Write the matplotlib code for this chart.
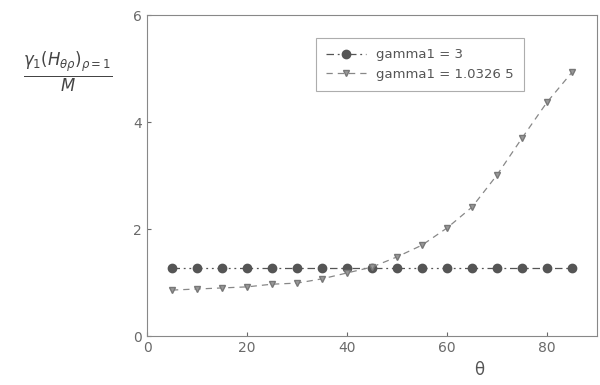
import matplotlib
matplotlib.use("Agg")
import matplotlib.pyplot as plt

theta = [5, 10, 15, 20, 25, 30, 35, 40, 45, 50, 55, 60, 65, 70, 75, 80, 85]
gamma3 = [1.27] * 17
gamma_other = [0.86, 0.88, 0.90, 0.92, 0.97, 0.99, 1.07, 1.18, 1.29, 1.48,
               1.70, 2.02, 2.41, 3.01, 3.70, 4.37, 4.93]
labels = ["gamma1 = 3", "gamma1 = 1.0326 5"]
xticks = [0, 20, 40, 60, 80]
yticks = [0, 2, 4, 6]

gray = "#6a6a6a"
fig = plt.figure(figsize=(6, 3.85), dpi=100)
ax = fig.add_axes([0.245, 0.127, 0.75, 0.834])

ax.plot(theta, gamma3, color="#555555", linestyle=(0, (6, 3, 1.5, 3, 1.5, 3)),
        linewidth=0.9, marker="o", markersize=6, label=labels[0])
ax.plot(theta, gamma_other, color="#888888", linestyle=(0, (5, 4)),
        linewidth=0.9, marker="v", markersize=4.5, markerfacecolor="#999999",
        markeredgecolor="#777777", label=labels[1])

ax.set_xlim(0, 90)
ax.set_ylim(0, 6)
ax.set_xticks(xticks)
ax.set_yticks(yticks)
ax.tick_params(direction="in", colors=gray, labelsize=10, length=3)
for s in ax.spines.values():
    s.set_color("#888888")
    s.set_linewidth(0.8)

leg = ax.legend(loc="upper left", bbox_to_anchor=(0.36, 0.95), frameon=True,
                fancybox=False, edgecolor="#999999", fontsize=9.5,
                labelcolor="#555555", handlelength=3.0, borderpad=0.8)
leg.get_frame().set_linewidth(0.8)

fig.text(0.8, 0.025, r"$\mathrm{\theta}$", color="#555555", fontsize=12, ha="center")
fig.text(0.113, 0.81, r"$\frac{\gamma_1(H_{\theta\rho})_{\rho=1}}{M}$",
         color="#444444", fontsize=17, ha="center", va="center")

fig.savefig("out.png", dpi=100)
